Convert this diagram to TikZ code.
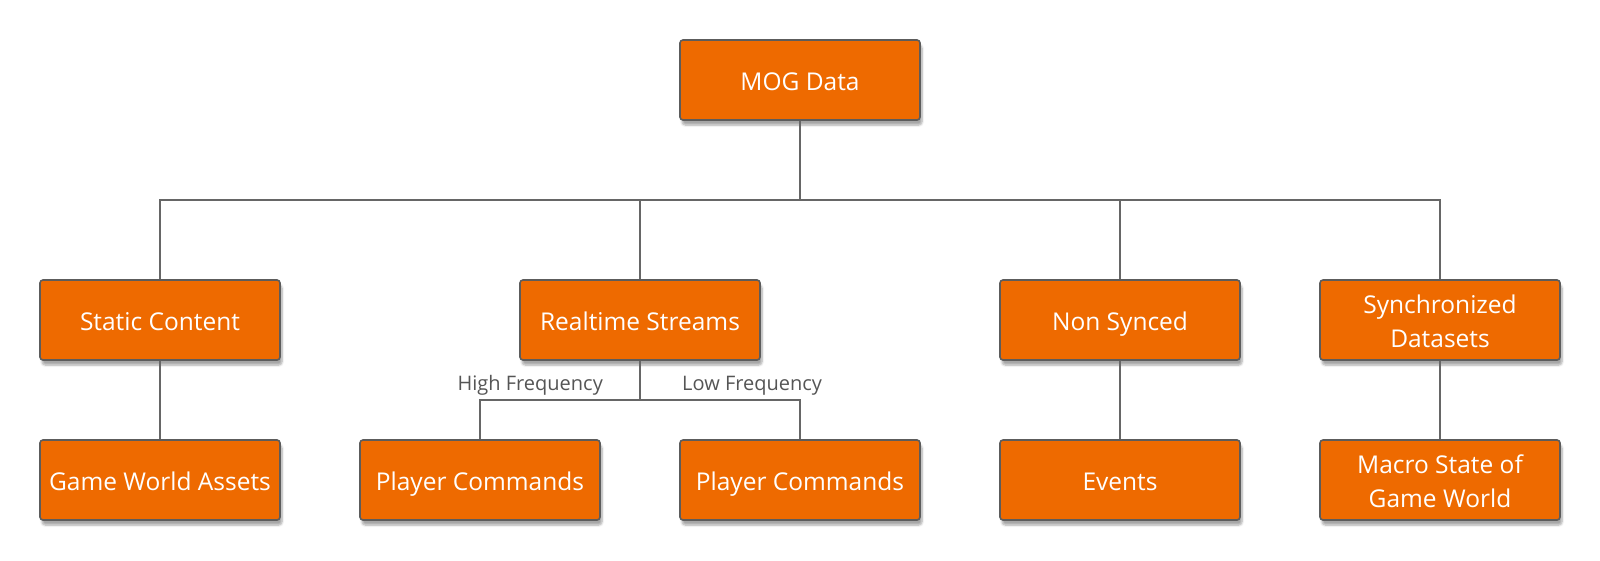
\documentclass[tikz,border=0pt]{standalone}
\usepackage{fontspec}
\setmainfont{Open Sans}
\usetikzlibrary{shadows.blur}
\definecolor{mogorange}{HTML}{EE6A00}
\definecolor{mogborder}{HTML}{5C5C5C}
\definecolor{mogline}{HTML}{666666}
\definecolor{moglabel}{HTML}{555555}
\tikzset{
    mybox/.style = {rectangle, rounded corners=3pt, line width=1.6pt, draw=mogborder, fill=mogorange,
        minimum width=240pt, minimum height=80pt, align=center, text=white,
        text height=20pt, text depth=0pt,
        font=\fontsize{24.5}{34}\selectfont,
        blur shadow={shadow xshift=2pt, shadow yshift=-5pt, shadow blur steps=6, shadow opacity=35}},
    myboxtwo/.style = {mybox, text height=54pt},
    edgen/.style = {-,line width=1.6pt,mogline},
    freq/.style = {text=moglabel, font=\fontsize{20}{24}\selectfont, inner sep=0pt}
}

\begin{document}
\begin{tikzpicture}[x=1pt,y=-1pt]
%
\node[mybox] at (800,80) (mog) {MOG Data};
%
\node[mybox] at (160,320) (static) {Static Content};
\node[mybox] at (640,320) (rts) {Realtime Streams};
\node[mybox] at (1120,320) (nonsync) {Non Synced};
\node[myboxtwo] at (1440,320) (sync) {Synchronized\\Datasets};
%
\node[mybox] at (160,480) (assets) {Game World Assets};
\node[mybox] at (480,480) (pchigh) {Player Commands};
\node[mybox] at (800,480) (pclow) {Player Commands};
\node[mybox] at (1120,480) (events) {Events};
\node[myboxtwo] at (1440,480) (macro) {Macro State of\\Game World};
%
\coordinate (bus) at (800,200);
\coordinate (subbus) at (640,400);
%
\node[freq, anchor=base east] at (603,390) (hf) {High Frequency};
\node[freq, anchor=base west] at (682,390) (lf) {Low Frequency};
%
\draw[edgen] (mog) -- (bus);
\draw[edgen] (bus) -| (static);
\draw[edgen] (bus) -| (rts);
\draw[edgen] (bus) -| (nonsync);
\draw[edgen] (bus) -| (sync);
\draw[edgen] (static) -- (assets);
\draw[edgen] (rts) -- (subbus);
\draw[edgen] (subbus) -| (pchigh);
\draw[edgen] (subbus) -| (pclow);
\draw[edgen] (nonsync) -- (events);
\draw[edgen] (sync) -- (macro);

\path[use as bounding box] (0,0) rectangle (1600,560);

\end{tikzpicture}
\end{document}
